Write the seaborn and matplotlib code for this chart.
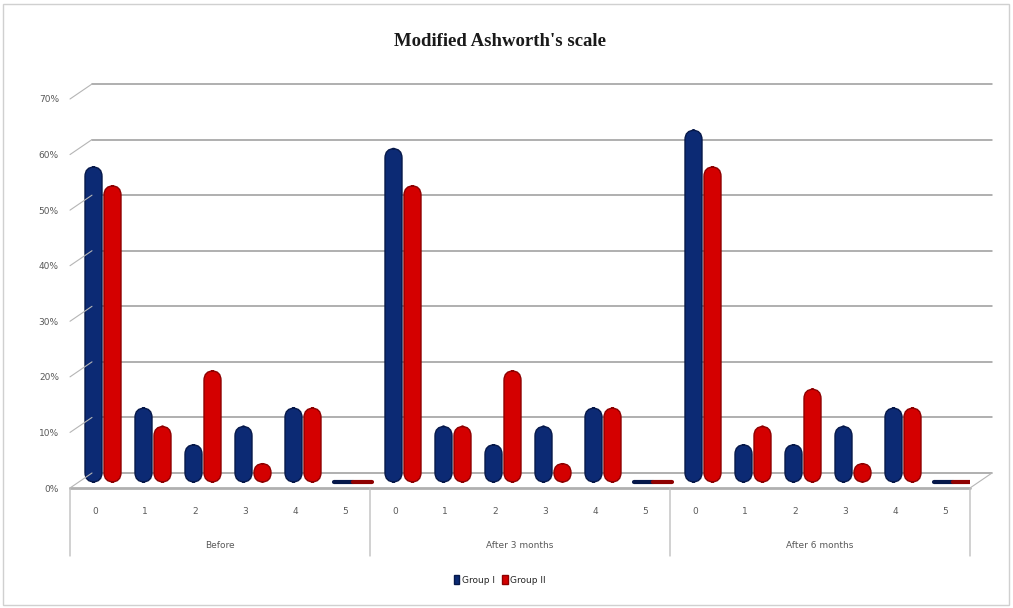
import matplotlib
matplotlib.use("Agg")
import matplotlib.pyplot as plt
from matplotlib.patches import FancyBboxPatch, Patch, Rectangle, ConnectionPatch
from matplotlib.transforms import offset_copy
import numpy as np
import pandas as pd
import seaborn as sns

# ---- data -------------------------------------------------------------
stages = ["Before", "After 3 months", "After 6 months"]
scores = ["0", "1", "2", "3", "4", "5"]
groups = ["Group I", "Group II"]

group1_before = [56.7, 13.3, 6.7, 10.0, 13.3, 0.0]
group2_before = [53.3, 10.0, 20.0, 3.3, 13.3, 0.0]
group1_after3 = [60.0, 10.0, 6.7, 10.0, 13.3, 0.0]
group2_after3 = [53.3, 10.0, 20.0, 3.3, 13.3, 0.0]
group1_after6 = [63.3, 6.7, 6.7, 10.0, 13.3, 0.0]
group2_after6 = [56.7, 10.0, 16.7, 3.3, 13.3, 0.0]

y_ticks = [0, 10, 20, 30, 40, 50, 60, 70]
y_tick_labels = ["0%", "10%", "20%", "30%", "40%", "50%", "60%", "70%"]

series = {
    ("Before", "Group I"): group1_before,
    ("Before", "Group II"): group2_before,
    ("After 3 months", "Group I"): group1_after3,
    ("After 3 months", "Group II"): group2_after3,
    ("After 6 months", "Group I"): group1_after6,
    ("After 6 months", "Group II"): group2_after6,
}

rows = []
for st in stages:
    for g in groups:
        for sc, v in zip(scores, series[(st, g)]):
            rows.append({"slot": f"{st}|{sc}", "stage": st, "score": sc,
                         "group": g, "pct": v / 100.0})
df = pd.DataFrame(rows)
slots = [f"{st}|{sc}" for st in stages for sc in scores]

# ---- figure -----------------------------------------------------------
sns.set_theme(style="white")
W, H, DPI = 1013, 608, 100
fig = plt.figure(figsize=(W / DPI, H / DPI), dpi=DPI, facecolor="white")

left_px, right_px = 70, 970
y0_px, y70_px = 488, 99
ax = fig.add_axes([left_px / W, (H - y0_px) / H,
                   (right_px - left_px) / W, (y0_px - y70_px) / H])
ax.set_facecolor("none")

blue, red = "#0c2a74", "#d40000"
edge_blue, edge_red = "#06184a", "#8e0000"

sns.barplot(data=df, x="slot", y="pct", hue="group", order=slots,
            hue_order=groups, palette=[blue, red], width=0.76,
            saturation=1, errorbar=None, legend=False, ax=ax, zorder=3)

ax.set_xlim(-0.5, len(slots) - 0.5)
ax.set_ylim(0, 0.70)

# bars stand in the middle of the floor depth
mid = offset_copy(ax.transData, fig=fig, x=8, y=6, units="dots")

# turn flat bars into rounded cylinders
px_per_x = (right_px - left_px) / len(slots)
px_per_y = (y0_px - y70_px) / 0.70
aspect = px_per_x / px_per_y
bars = list(ax.patches)
for i, rect in enumerate(bars):
    x, y = rect.get_x(), rect.get_y()
    w, h = rect.get_width(), rect.get_height()
    is_blue = i < len(bars) // 2
    fc = blue if is_blue else red
    ec = edge_blue if is_blue else edge_red
    if h <= 0:
        rect.set_facecolor(fc)
        rect.set_edgecolor(ec)
        rect.set_linewidth(3)
        rect.set_capstyle("round")
        rect.set_transform(mid)
        continue
    rect.remove()
    r = min(w / 2, h / (2 * aspect))
    cyl = FancyBboxPatch((x + 0.02, y), w - 0.04, h,
                         boxstyle=f"round,pad=0,rounding_size={r}",
                         mutation_aspect=aspect, facecolor=fc,
                         edgecolor=ec, linewidth=1.0, zorder=3,
                         transform=mid)
    ax.add_patch(cyl)

# back wall gridlines (drawn with a 3-D style offset)
dx, dy = 22, 15
back = offset_copy(ax.transData, fig=fig, x=dx, y=dy, units="dots")
grid_c = "#9a9a9a"
for v in y_ticks:
    ax.plot([-0.5, len(slots) - 0.5], [v / 100, v / 100], transform=back,
            color=grid_c, lw=1.1, zorder=1, clip_on=False)
    con = ConnectionPatch(xyA=(-0.5, v / 100), coordsA=ax.transData,
                          xyB=(-0.5, v / 100), coordsB=back,
                          color="#b5b5b5", lw=0.8, zorder=1)
    fig.add_artist(con)

# floor front edge and right side
ax.plot([-0.5, len(slots) - 0.5], [0, 0], color="#b0b0b0", lw=2.0,
        zorder=2, clip_on=False)
fig.add_artist(ConnectionPatch(xyA=(len(slots) - 0.5, 0), coordsA=ax.transData,
                               xyB=(len(slots) - 0.5, 0), coordsB=back,
                               color="#b5b5b5", lw=0.8, zorder=1))

# axes cosmetics
sns.despine(ax=ax, left=True, bottom=True, top=True, right=True)
ax.grid(False)
ax.set_xlabel("")
ax.set_ylabel("")
ax.set_yticks([v / 100 for v in y_ticks])
ax.set_yticklabels(y_tick_labels, fontsize=6.5, color="#595959",
                   family="Liberation Sans Narrow")
ax.tick_params(axis="y", length=0, pad=8)
ax.set_xticks(range(len(slots)))
ax.set_xticklabels([sc for st in stages for sc in scores], fontsize=6.5,
                   color="#595959", family="Liberation Sans Narrow")
ax.tick_params(axis="x", length=0, pad=14)

# multi-level category axis: separators and stage labels
below = offset_copy(ax.transData, fig=fig, x=0, y=-68, units="dots")
for xs in [-0.5 + 6 * k for k in range(len(stages) + 1)]:
    fig.add_artist(ConnectionPatch(xyA=(xs, 0), coordsA=ax.transData,
                                   xyB=(xs, 0), coordsB=below,
                                   color="#bfbfbf", lw=1.0))
for k, st in enumerate(stages):
    ax.annotate(st, xy=(6 * k + 2.5, 0), xycoords="data",
                xytext=(0, -57), textcoords="offset pixels",
                ha="center", va="center", fontsize=6.5, color="#595959",
                family="Liberation Sans Narrow", annotation_clip=False)

# title
fig.text(500 / W, 1 - 42 / H, "Modified Ashworth's scale", ha="center",
         va="center", fontsize=13.5, fontweight="bold",
         family="Liberation Serif", color="#1a1a1a")

# legend
handles = [Patch(facecolor=blue, edgecolor=edge_blue, label=groups[0]),
           Patch(facecolor=red, edgecolor=edge_red, label=groups[1])]
fig.legend(handles=handles, loc="center", bbox_to_anchor=(500 / W, 1 - 580 / H),
           ncol=2, frameon=False, handlelength=0.6, handleheight=1.0,
           handletextpad=0.3, columnspacing=0.8,
           prop={"family": "Liberation Sans Narrow", "size": 6.5})

# chart border
fig.add_artist(Rectangle((3 / W, 3 / H), 1 - 7 / W, 1 - 7 / H,
                         transform=fig.transFigure, fill=False,
                         edgecolor="#d0d0d0", lw=1.0))

fig.savefig("out.png", dpi=DPI, facecolor="white")
